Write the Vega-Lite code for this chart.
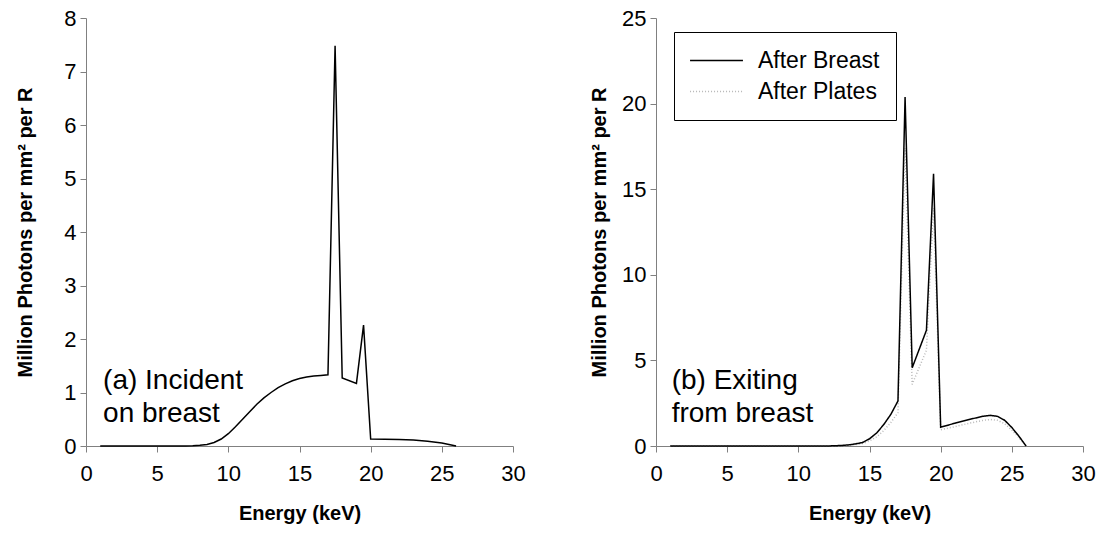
{
  "$schema": "https://vega.github.io/schema/vega-lite/v6.json",
  "padding": {"left": 15, "top": 7, "right": 5, "bottom": 5},
  "spacing": 63,
  "background": "white",
  "config": {
    "view": {"stroke": null},
    "font": "Liberation Sans",
    "axis": {
      "grid": false,
      "domainColor": "#808080",
      "tickColor": "#808080",
      "tickSize": 6,
      "labelFontSize": 22,
      "labelColor": "black",
      "labelFont": "Liberation Sans",
      "labelFlush": false,
      "titleFont": "Liberation Sans",
      "titleFontSize": 20,
      "titleFontWeight": "bold",
      "titleColor": "black"
    },
    "axisX": {"labelPadding": 11, "titlePadding": 19},
    "axisY": {"labelPadding": 4}
  },
  "datasets": {
    "incident": [
      {"e": 1, "v": 0}, {"e": 2, "v": 0}, {"e": 3, "v": 0}, {"e": 4, "v": 0}, {"e": 5, "v": 0}, {"e": 6, "v": 0},
      {"e": 7, "v": 0.001}, {"e": 7.5, "v": 0.004}, {"e": 8, "v": 0.012}, {"e": 8.5, "v": 0.03}, {"e": 9, "v": 0.065},
      {"e": 9.5, "v": 0.13}, {"e": 10, "v": 0.23}, {"e": 10.5, "v": 0.36}, {"e": 11, "v": 0.5}, {"e": 11.5, "v": 0.64},
      {"e": 12, "v": 0.78}, {"e": 12.5, "v": 0.9}, {"e": 13, "v": 1.0}, {"e": 13.5, "v": 1.09}, {"e": 14, "v": 1.16},
      {"e": 14.5, "v": 1.22}, {"e": 15, "v": 1.26}, {"e": 15.5, "v": 1.29}, {"e": 16, "v": 1.31}, {"e": 16.5, "v": 1.32},
      {"e": 17, "v": 1.33}, {"e": 17.5, "v": 7.48}, {"e": 18, "v": 1.27}, {"e": 19, "v": 1.17}, {"e": 19.5, "v": 2.26},
      {"e": 20, "v": 0.13}, {"e": 21, "v": 0.125}, {"e": 22, "v": 0.12}, {"e": 23, "v": 0.11}, {"e": 24, "v": 0.09},
      {"e": 25, "v": 0.055}, {"e": 26, "v": 0}
    ],
    "exiting": [
      {"s": "After Plates", "e": 1, "v": 0}, {"s": "After Plates", "e": 4, "v": 0}, {"s": "After Plates", "e": 8, "v": 0},
      {"s": "After Plates", "e": 11, "v": 0}, {"s": "After Plates", "e": 12, "v": 0.001}, {"s": "After Plates", "e": 12.5, "v": 0.005},
      {"s": "After Plates", "e": 13, "v": 0.02}, {"s": "After Plates", "e": 13.5, "v": 0.04}, {"s": "After Plates", "e": 14, "v": 0.08},
      {"s": "After Plates", "e": 14.5, "v": 0.14}, {"s": "After Plates", "e": 15, "v": 0.29}, {"s": "After Plates", "e": 15.5, "v": 0.53},
      {"s": "After Plates", "e": 16, "v": 0.9}, {"s": "After Plates", "e": 16.5, "v": 1.37}, {"s": "After Plates", "e": 17, "v": 1.95},
      {"s": "After Plates", "e": 17.5, "v": 17.4}, {"s": "After Plates", "e": 18, "v": 3.6}, {"s": "After Plates", "e": 19, "v": 5.6},
      {"s": "After Plates", "e": 19.5, "v": 13.9}, {"s": "After Plates", "e": 20, "v": 0.95}, {"s": "After Plates", "e": 21, "v": 1.13},
      {"s": "After Plates", "e": 22, "v": 1.33}, {"s": "After Plates", "e": 23, "v": 1.5}, {"s": "After Plates", "e": 23.5, "v": 1.55},
      {"s": "After Plates", "e": 24, "v": 1.5}, {"s": "After Plates", "e": 24.5, "v": 1.3}, {"s": "After Plates", "e": 25, "v": 0.93},
      {"s": "After Plates", "e": 25.5, "v": 0.49}, {"s": "After Plates", "e": 26, "v": 0},
      {"s": "After Breast", "e": 1, "v": 0}, {"s": "After Breast", "e": 4, "v": 0}, {"s": "After Breast", "e": 8, "v": 0},
      {"s": "After Breast", "e": 11, "v": 0}, {"s": "After Breast", "e": 12, "v": 0.003}, {"s": "After Breast", "e": 12.5, "v": 0.01},
      {"s": "After Breast", "e": 13, "v": 0.03}, {"s": "After Breast", "e": 13.5, "v": 0.06}, {"s": "After Breast", "e": 14, "v": 0.12},
      {"s": "After Breast", "e": 14.5, "v": 0.2}, {"s": "After Breast", "e": 15, "v": 0.42}, {"s": "After Breast", "e": 15.5, "v": 0.76},
      {"s": "After Breast", "e": 16, "v": 1.25}, {"s": "After Breast", "e": 16.5, "v": 1.85}, {"s": "After Breast", "e": 17, "v": 2.63},
      {"s": "After Breast", "e": 17.5, "v": 20.39}, {"s": "After Breast", "e": 18, "v": 4.57}, {"s": "After Breast", "e": 19, "v": 6.76},
      {"s": "After Breast", "e": 19.5, "v": 15.9}, {"s": "After Breast", "e": 20, "v": 1.1}, {"s": "After Breast", "e": 21, "v": 1.33},
      {"s": "After Breast", "e": 22, "v": 1.55}, {"s": "After Breast", "e": 23, "v": 1.74}, {"s": "After Breast", "e": 23.5, "v": 1.79},
      {"s": "After Breast", "e": 24, "v": 1.73}, {"s": "After Breast", "e": 24.5, "v": 1.5}, {"s": "After Breast", "e": 25, "v": 1.08},
      {"s": "After Breast", "e": 25.5, "v": 0.57}, {"s": "After Breast", "e": 26, "v": 0}
    ]
  },
  "hconcat": [
    {
      "width": 427,
      "height": 428,
      "layer": [
        {
          "data": {"name": "incident"},
          "mark": {"type": "line", "color": "black", "strokeWidth": 1.5},
          "encoding": {
            "x": {"field": "e", "type": "quantitative", "scale": {"domain": [0, 30], "nice": false},
                  "axis": {"values": [0, 5, 10, 15, 20, 25, 30], "title": "Energy (keV)"}},
            "y": {"field": "v", "type": "quantitative", "scale": {"domain": [0, 8], "nice": false},
                  "axis": {"values": [0, 1, 2, 3, 4, 5, 6, 7, 8], "title": "Million Photons per mm² per R", "titlePadding": 28}}
          }
        },
        {
          "data": {"values": [{"t": "(a) Incident\non breast"}]},
          "mark": {"type": "text", "align": "left", "baseline": "alphabetic", "fontSize": 28, "lineBreak": "\n", "lineHeight": 33, "font": "Liberation Sans", "color": "black"},
          "encoding": {
            "x": {"datum": 1.2, "type": "quantitative"},
            "y": {"datum": 1.07, "type": "quantitative"},
            "text": {"field": "t"}
          }
        }
      ]
    },
    {
      "width": 427,
      "height": 428,
      "layer": [
        {
          "data": {"name": "exiting"},
          "mark": {"type": "line", "strokeWidth": 1.5},
          "encoding": {
            "x": {"field": "e", "type": "quantitative", "scale": {"domain": [0, 30], "nice": false},
                  "axis": {"values": [0, 5, 10, 15, 20, 25, 30], "title": "Energy (keV)"}},
            "y": {"field": "v", "type": "quantitative", "scale": {"domain": [0, 25], "nice": false},
                  "axis": {"values": [0, 5, 10, 15, 20, 25], "title": "Million Photons per mm² per R", "titlePadding": 12}},
            "color": {"field": "s", "type": "nominal",
                      "scale": {"domain": ["After Breast", "After Plates"], "range": ["black", "#b8b8b8"]},
                      "legend": {"title": null, "orient": "none", "legendX": 588, "legendY": 14, "strokeColor": "black",
                                 "fillColor": "white", "padding": 16, "symbolType": "M-2.3,0H2.3", "symbolSize": 529,
                                 "symbolOffset": 14, "symbolStrokeWidth": 1.5, "labelFontSize": 23, "labelFont": "Liberation Sans",
                                 "labelColor": "black", "labelOffset": 29, "rowPadding": 6}},
            "strokeDash": {"field": "s", "type": "nominal",
                           "scale": {"domain": ["After Breast", "After Plates"], "range": [[1, 0], [1, 2]]}}
          }
        },
        {
          "data": {"values": [{"t": "(b) Exiting\nfrom breast"}]},
          "mark": {"type": "text", "align": "left", "baseline": "alphabetic", "fontSize": 28, "lineBreak": "\n", "lineHeight": 33, "font": "Liberation Sans", "color": "black"},
          "encoding": {
            "x": {"datum": 1.1, "type": "quantitative"},
            "y": {"datum": 3.33, "type": "quantitative"},
            "text": {"field": "t"}
          }
        }
      ]
    }
  ]
}
